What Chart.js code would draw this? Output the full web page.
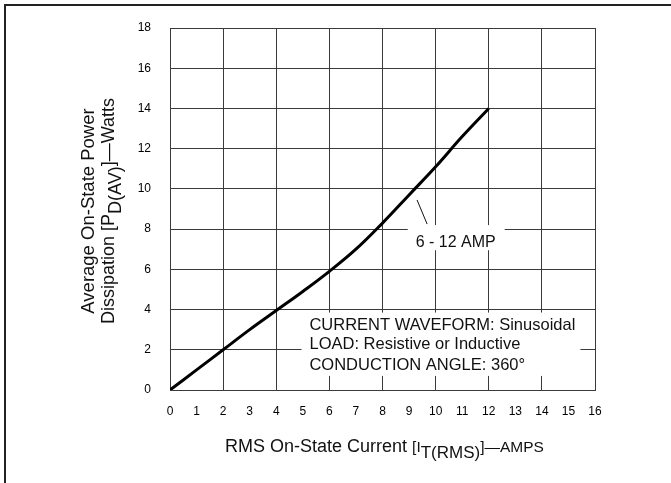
<!DOCTYPE html>
<html>
<head>
<meta charset="utf-8">
<script src="https://cdn.jsdelivr.net/npm/chart.js@4"></script>
<style>
  body { margin: 0; background: #fff; }
  canvas { display: block; }
</style>
</head>
<body>
<canvas id="powerChart" width="671" height="483"></canvas>
<script>
// Curve: RMS current (A) vs average power (W)
const currentAmps = [0, 1, 2, 3, 4, 5, 6, 7, 8, 9, 10, 11, 12];
const powerWatts = [0, 1.0, 2.0, 3.0, 3.95, 4.9, 5.9, 7.0, 8.3, 9.7, 11.1, 12.6, 14.0];

// Axis ranges
const xMin = 0, xMax = 16, xStep = 1;
const yMin = 0, yMax = 18, yStep = 2;

const conditionLines = [
    'CURRENT WAVEFORM: Sinusoidal',
    'LOAD: Resistive or Inductive',
    'CONDUCTION ANGLE: 360\u00B0'
];
const curveLabel = '6 - 12 AMP';

const FONT = "'Liberation Sans', Arial, Helvetica, sans-serif";
const GRID = '#3a3a3a';

// draw a row of text pieces (some lowered as subscripts), centred on x
function drawRuns(ctx, runs, x, y) {
    let total = 0;
    runs.forEach(r => { ctx.font = r.size + 'px ' + FONT; total += ctx.measureText(r.text).width; });
    let cx = x - total / 2;
    ctx.textAlign = 'left';
    ctx.textBaseline = 'alphabetic';
    runs.forEach(r => {
        ctx.font = r.size + 'px ' + FONT;
        ctx.fillText(r.text, cx, y + (r.dy || 0));
        cx += ctx.measureText(r.text).width;
    });
}

const notes = {
    id: 'notes',
    beforeDatasetsDraw(chart) {
        const { ctx, scales: { x, y } } = chart;
        ctx.save();
        ctx.fillStyle = '#fff';
        // white patch behind the conditions text
        ctx.fillRect(x.getPixelForValue(4.95), y.getPixelForValue(3.85),
            x.getPixelForValue(15.45) - x.getPixelForValue(4.95),
            y.getPixelForValue(0.7) - y.getPixelForValue(3.85));
        // white patch behind the curve label
        ctx.fillRect(x.getPixelForValue(8.95), y.getPixelForValue(8.2),
            x.getPixelForValue(12.6) - x.getPixelForValue(8.95),
            y.getPixelForValue(6.95) - y.getPixelForValue(8.2));
        ctx.restore();
    },
    afterDraw(chart) {
        const { ctx, scales: { x, y }, chartArea } = chart;
        ctx.save();
        ctx.fillStyle = '#111';

        // conditions block
        ctx.font = '16.5px ' + FONT;
        ctx.textAlign = 'left';
        ctx.textBaseline = 'middle';
        const tx = x.getPixelForValue(5.25);
        [3.23, 2.24, 1.24].forEach((v, i) => {
            ctx.fillText(conditionLines[i], tx, y.getPixelForValue(v));
        });

        // curve label with leader line
        ctx.font = '16px ' + FONT;
        ctx.fillText(curveLabel, x.getPixelForValue(9.25), y.getPixelForValue(7.35));
        ctx.strokeStyle = '#111';
        ctx.lineWidth = 1;
        ctx.beginPath();
        ctx.moveTo(x.getPixelForValue(9.3), y.getPixelForValue(9.45));
        ctx.lineTo(x.getPixelForValue(9.68), y.getPixelForValue(8.25));
        ctx.stroke();

        // x axis title
        drawRuns(ctx, [
            { text: 'RMS On-State Current ', size: 18 },
            { text: '[I', size: 15.5 },
            { text: 'T(RMS)', size: 17, dy: 6 },
            { text: ']\u2014AMPS', size: 15.5 }
        ], (chartArea.left + chartArea.right) / 2 + 2, 452);

        // y axis title, rotated
        const cy = (chartArea.top + chartArea.bottom) / 2 + 2;
        ctx.save();
        ctx.translate(0, cy);
        ctx.rotate(-Math.PI / 2);
        drawRuns(ctx, [{ text: 'Average On-State Power', size: 18.5 }], 0, 94);
        drawRuns(ctx, [
            { text: 'Dissipation [P', size: 18 },
            { text: 'D(AV)', size: 18, dy: 7 },
            { text: ']\u2014Watts', size: 18 }
        ], 0, 114);
        ctx.restore();

        // frame (top and left edges of the scanned page)
        ctx.strokeStyle = '#222';
        ctx.lineWidth = 2;
        ctx.beginPath();
        ctx.moveTo(5, chart.height);
        ctx.lineTo(5, 5);
        ctx.lineTo(chart.width, 5);
        ctx.stroke();
        ctx.restore();
    }
};

new Chart(document.getElementById('powerChart'), {
    type: 'line',
    data: {
        datasets: [{
            data: currentAmps.map((c, i) => ({ x: c, y: powerWatts[i] })),
            borderColor: '#000',
            borderWidth: 3,
            pointRadius: 0,
            tension: 0.4,
            fill: false
        }]
    },
    options: {
        responsive: false,
        animation: false,
        layout: { padding: { top: 28, right: 76, bottom: 0, left: 0 } },
        plugins: {
            legend: { display: false },
            tooltip: { enabled: false }
        },
        scales: {
            x: {
                type: 'linear',
                min: xMin,
                max: xMax,
                afterFit: (scale) => { scale.height = 93; },
                ticks: {
                    stepSize: xStep,
                    padding: 14,
                    color: '#000',
                    font: { family: FONT, size: 12 }
                },
                grid: {
                    drawTicks: false,
                    color: (c) => (c.tick && c.tick.value % 2 === 0) ? GRID : 'rgba(0,0,0,0)',
                    lineWidth: 1
                },
                border: { color: GRID }
            },
            y: {
                min: yMin,
                max: yMax,
                afterFit: (scale) => { scale.width = 170; },
                ticks: {
                    stepSize: yStep,
                    padding: 19,
                    color: '#000',
                    font: { family: FONT, size: 12 }
                },
                grid: { drawTicks: false, color: GRID, lineWidth: 1 },
                border: { color: GRID }
            }
        }
    },
    plugins: [notes]
});
</script>
</body>
</html>
